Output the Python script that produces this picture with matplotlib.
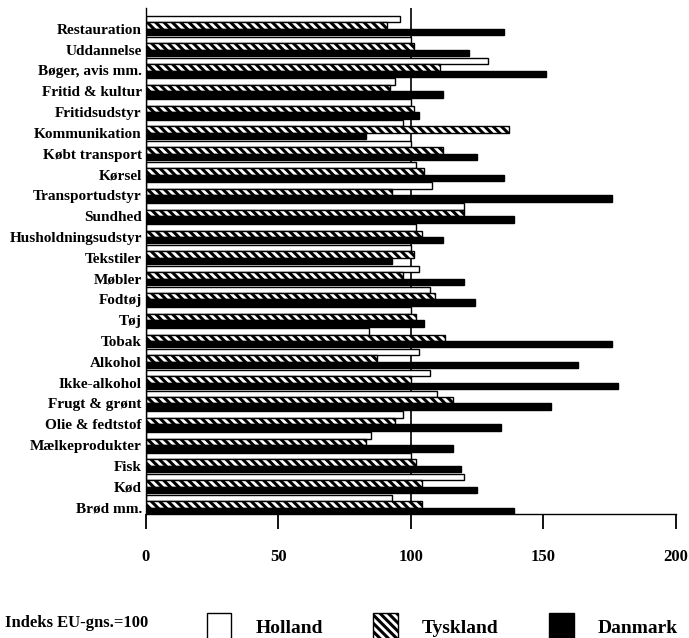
import matplotlib
matplotlib.use('Agg')
import matplotlib.pyplot as plt
import numpy as np

# Data (index, EU average = 100)
categories = ['Restauration', 'Uddannelse', 'Bøger, avis mm.', 'Fritid & kultur',
              'Fritidsudstyr', 'Kommunikation', 'Købt transport', 'Kørsel',
              'Transportudstyr', 'Sundhed', 'Husholdningsudstyr', 'Tekstiler',
              'Møbler', 'Fodtøj', 'Tøj', 'Tobak', 'Alkohol', 'Ikke-alkohol',
              'Frugt & grønt', 'Olie & fedtstof', 'Mælkeprodukter', 'Fisk',
              'Kød', 'Brød mm.']
holland = [96, 100, 129, 94, 100, 97, 100, 102, 108, 120, 102, 100,
           103, 107, 100, 84, 103, 107, 110, 97, 85, 100, 120, 93]
tyskland = [91, 101, 111, 92, 101, 137, 112, 105, 93, 120, 104, 101,
            97, 109, 102, 113, 87, 100, 116, 94, 83, 102, 104, 104]
danmark = [135, 122, 151, 112, 103, 83, 125, 135, 176, 139, 112, 93,
           120, 124, 105, 176, 163, 178, 153, 134, 116, 119, 125, 139]
xticks = [0, 50, 100, 150, 200]

plt.rcParams['font.family'] = ['Liberation Serif', 'DejaVu Serif']
plt.rcParams['font.weight'] = 'bold'
plt.rcParams['hatch.linewidth'] = 2.2

fig = plt.figure(figsize=(6.89, 6.38), dpi=100)
ax = fig.add_axes([0.2119, 0.1944, 0.7692, 0.7931])

y = np.arange(len(categories))
h = 0.31
bh = ax.barh(y - h, holland, height=h, color='white', edgecolor='black',
             linewidth=1.0, label='Holland')
bt = ax.barh(y, tyskland, height=h, color='white', edgecolor='black',
             hatch='\\\\\\\\', linewidth=1.0, label='Tyskland')
bd = ax.barh(y + h, danmark, height=h, color='black', edgecolor='black',
             linewidth=1.0, label='Danmark')

ax.axvline(100, color='black', linewidth=1.2, zorder=0)

ax.set_xlim(0, 200)
ax.set_ylim(len(categories) - 1 + 1.5 * h, -0.85)
ax.set_yticks(y + 0.15)
ax.set_yticklabels(categories, fontsize=11, fontweight='bold')
ax.tick_params(axis='y', length=0, pad=3)
ax.set_xticks(xticks)
ax.set_xticklabels([str(t) for t in xticks], fontsize=12, fontweight='bold')
ax.tick_params(axis='x', length=11, width=1.3, pad=14)

ax.spines['top'].set_visible(False)
ax.spines['right'].set_visible(False)
ax.spines['left'].set_linewidth(1.0)
ax.spines['bottom'].set_linewidth(1.0)

fig.text(0.007, 0.024, 'Indeks EU-gns.=100', fontsize=12, fontweight='bold',
         va='center', ha='left')
fig.legend(handles=[bh, bt, bd], labels=['Holland', 'Tyskland', 'Danmark'],
           loc='lower left', bbox_to_anchor=(0.300, -0.004), ncol=3,
           frameon=False, fontsize=14, handlelength=1.25, handleheight=1.8,
           handletextpad=1.25, columnspacing=2.6, borderpad=0,
           borderaxespad=0)

fig.savefig('out.png', dpi=100)
